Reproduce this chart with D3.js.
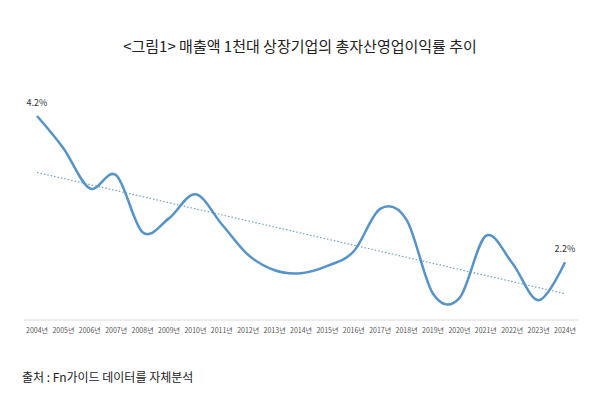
<!DOCTYPE html>
<html><head><meta charset="utf-8">
<script src="https://cdn.jsdelivr.net/npm/d3@7"></script>
<style>body{margin:0;background:#fff}</style>
</head><body>
<svg id="chart" width="601" height="404"></svg>
<script>
const years = ["2004년","2005년","2006년","2007년","2008년","2009년","2010년","2011년","2012년","2013년","2014년","2015년","2016년","2017년","2018년","2019년","2020년","2021년","2022년","2023년","2024년"];
const roa = [4.2,3.76,3.21,3.39,2.61,2.8,3.13,2.72,2.3,2.09,2.05,2.15,2.35,2.93,2.78,1.77,1.71,2.56,2.19,1.68,2.2];

const svg = d3.select("#chart");
const x = d3.scalePoint().domain(years).range([37, 565]);
const y = d3.scaleLinear().domain([1.41, 4.2]).range([320, 116]);

// title
svg.append("text").attr("x", 300).attr("y", 52).attr("text-anchor", "middle")
    .style("font-family", "'Noto Sans CJK KR', serif").style("font-size", "15px").attr("fill", "#222")
    .text("<그림1> 매출액 1천대 상장기업의 총자산영업이익률 추이");

// axis line and ticks
svg.append("line").attr("x1", 24).attr("x2", 578).attr("y1", 320).attr("y2", 320)
    .attr("stroke", "#d9d9d9");
svg.selectAll(".tk").data(years).enter().append("text")
    .attr("x", d => x(d)).attr("y", 333).attr("text-anchor", "middle")
    .style("font-family", "'Noto Sans CJK KR'").style("font-size", "7px").attr("fill", "#555")
    .text(d => d);

// linear trend (least squares)
const n = roa.length;
const mx = (n - 1) / 2, my = d3.mean(roa);
let num = 0, den = 0;
roa.forEach((v, i) => { num += (i - mx) * (v - my); den += (i - mx) ** 2; });
const slope = num / den, icpt = my - slope * mx;
svg.append("line")
    .attr("x1", x(years[0])).attr("y1", y(icpt))
    .attr("x2", x(years[n - 1])).attr("y2", y(icpt + slope * (n - 1)))
    .attr("stroke", "#6f9fc8").attr("stroke-width", 1.2).attr("stroke-dasharray", "1.5,2");

// smooth line
const line = d3.line().x((d, i) => x(years[i])).y(d => y(d)).curve(d3.curveCardinal.tension(0));
svg.append("path").datum(roa).attr("d", line).attr("fill", "none")
    .attr("stroke", "#5593cb").attr("stroke-width", 2.5);

// labels
[[0, "4.2%"], [n - 1, "2.2%"]].forEach(([i, t]) => {
    svg.append("text").attr("x", x(years[i])).attr("y", y(roa[i]) - 10).attr("text-anchor", "middle")
        .style("font-family", "'Noto Sans CJK KR'").style("font-size", "9px").attr("fill", "#333").text(t);
});

// source
svg.append("text").attr("x", 22).attr("y", 382)
    .style("font-family", "'Noto Sans CJK KR'").style("font-size", "12px").attr("fill", "#222")
    .text("출처 : Fn가이드 데이터를 자체분석");
</script>
</body></html>
